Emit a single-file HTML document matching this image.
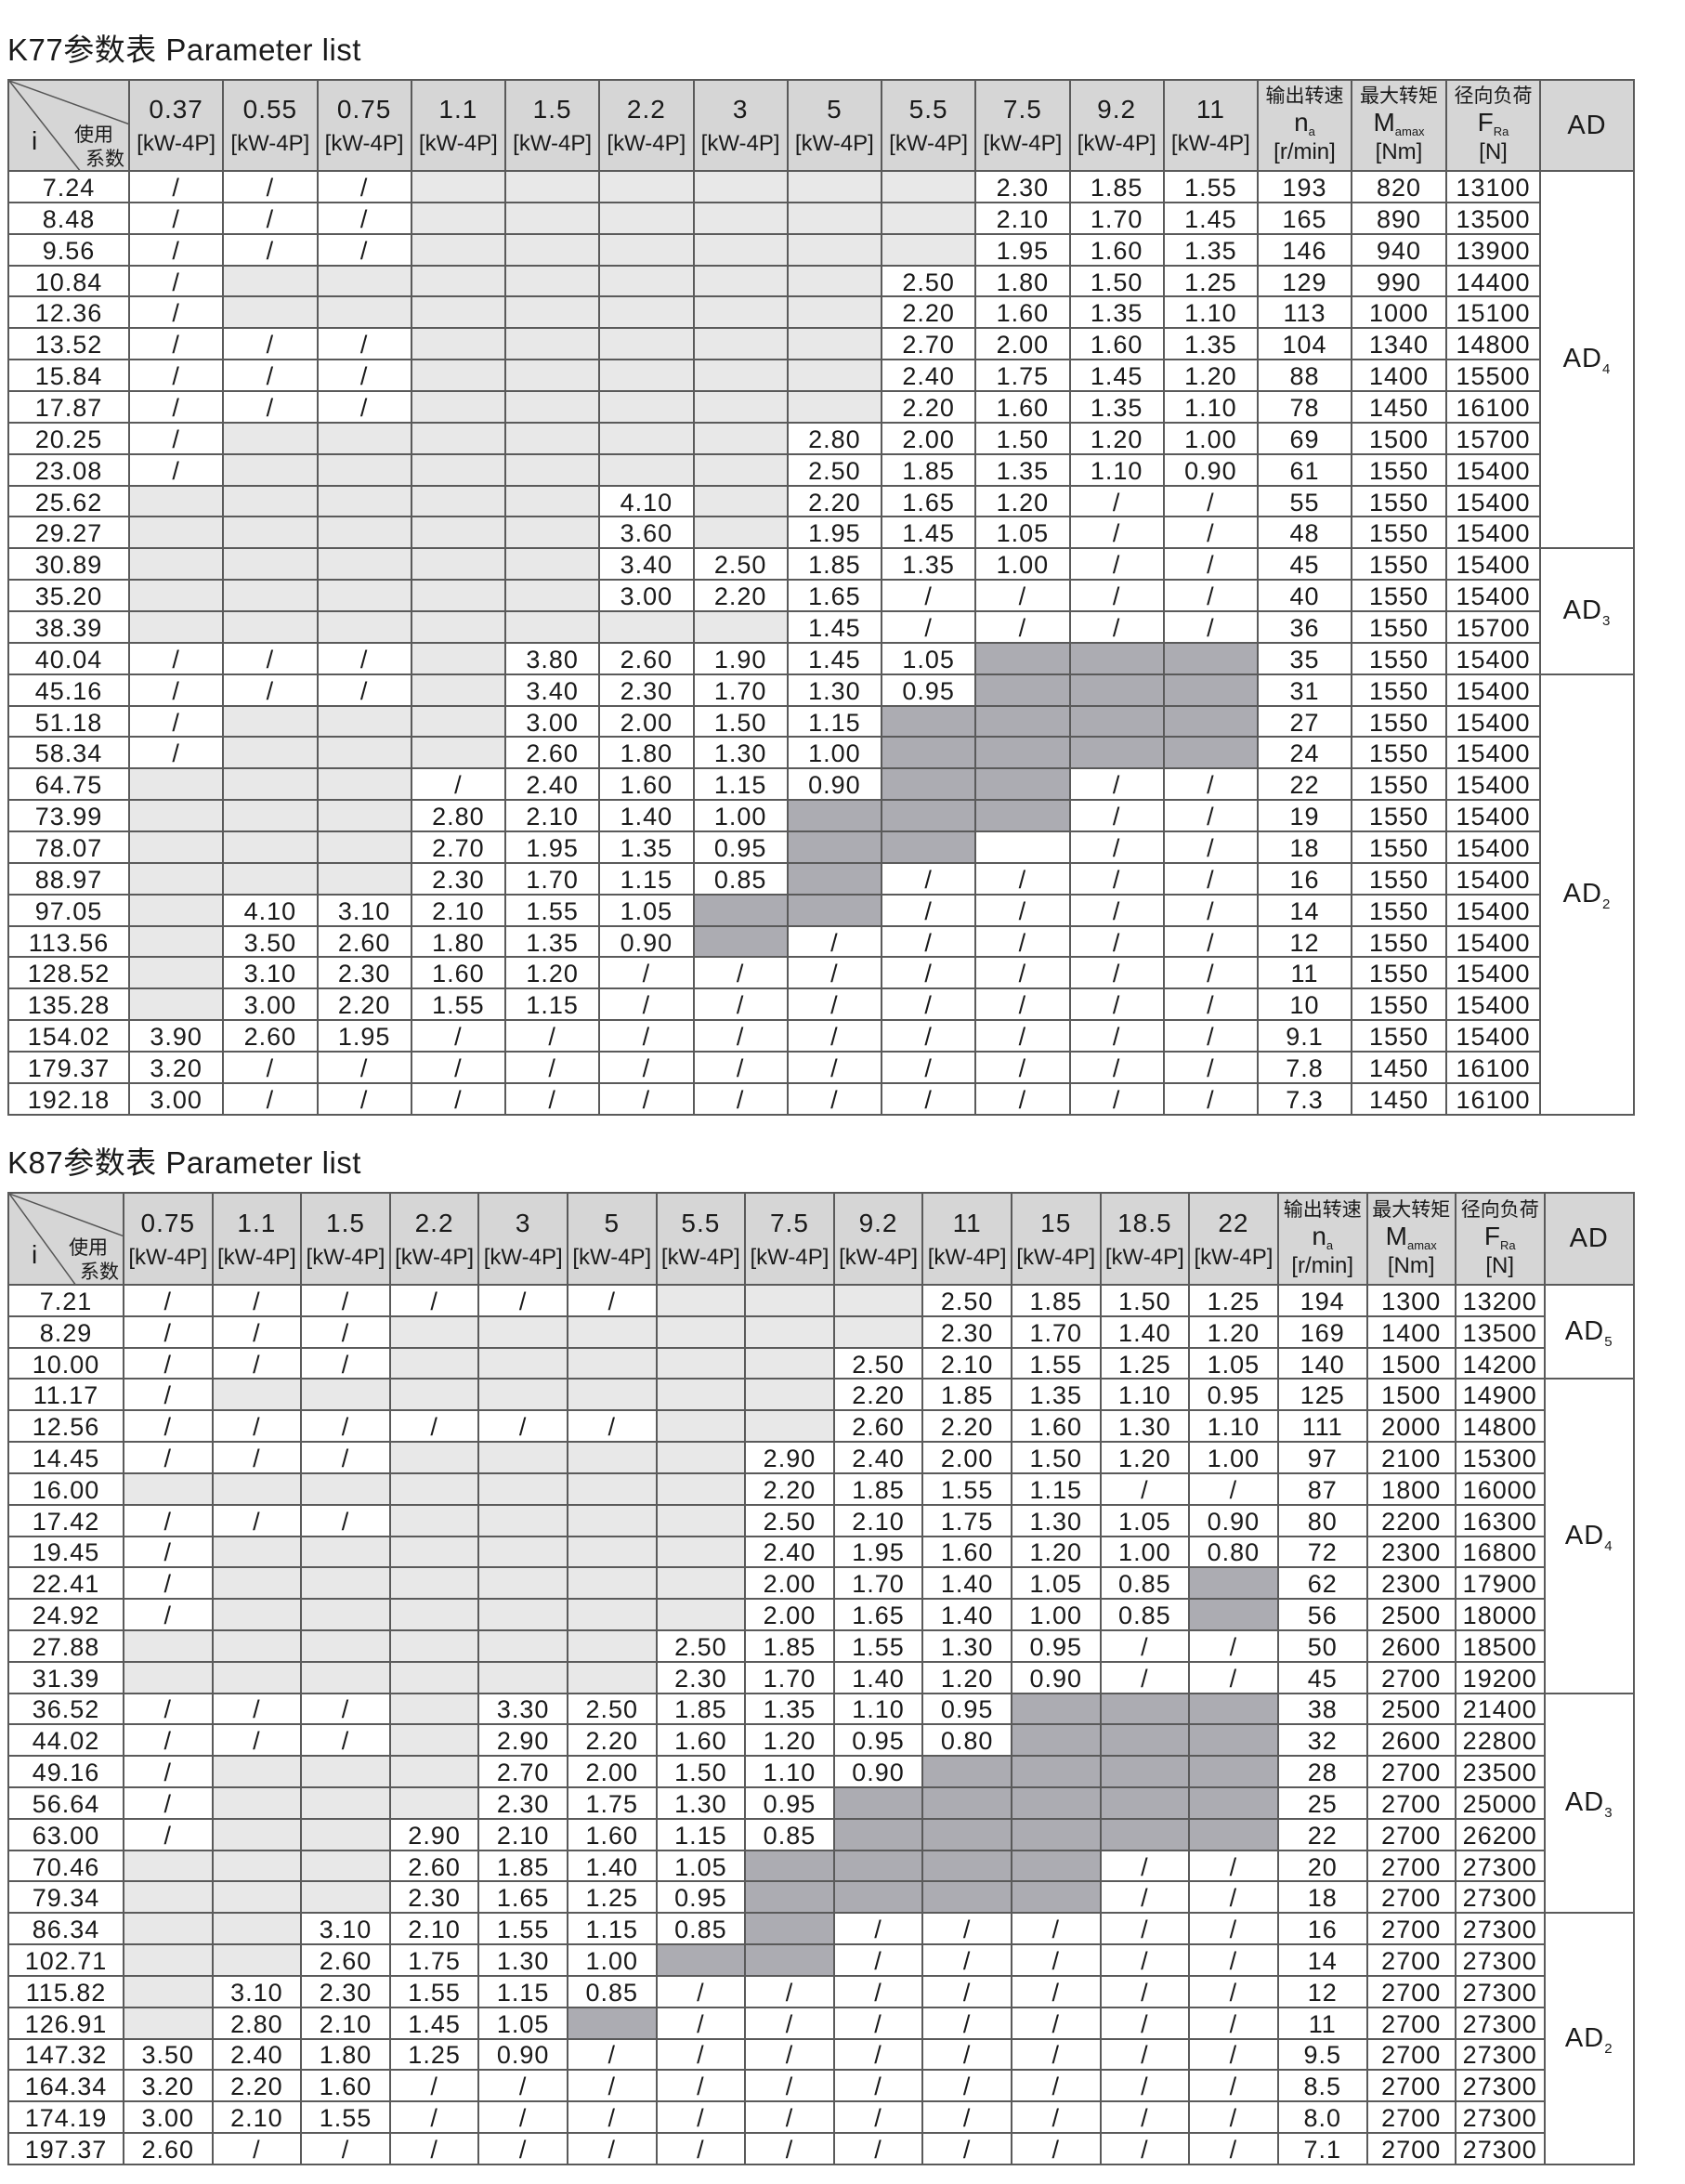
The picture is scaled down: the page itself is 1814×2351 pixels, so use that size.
<!DOCTYPE html>
<html><head><meta charset="utf-8">
<style>
html,body{margin:0;padding:0;background:#fff;}
body{width:1814px;height:2351px;position:relative;overflow:hidden;font-family:"Liberation Sans","Noto Sans CJK SC",sans-serif;color:#1a1a1a;}
.title{position:absolute;left:8px;font-size:33px;letter-spacing:0.5px;white-space:nowrap;}
table{position:absolute;left:8px;border-collapse:collapse;table-layout:fixed;}
td{border:2px solid #5a5a5a;text-align:center;vertical-align:middle;padding:3px 0 0 0;font-size:27px;letter-spacing:1px;line-height:1;overflow:hidden;white-space:nowrap;}
tr.h td{background:#d6d6d6;font-size:28px;line-height:1.25;padding:0;}
tr.h td .k{font-size:24px;letter-spacing:0;}
tr.h td.c{font-size:21px;line-height:1.15;letter-spacing:0;}
tr.h td.c .m{font-size:28px;}
tr.h td.c sub{font-size:13px;}
tr.h td.ad{font-size:29px;}
.l{background:#e8e8e8;}
.d{background:#acacb2;}
td.adc{background:#fff;font-size:29px;}
td.adc sub{font-size:15px;}
.dg{position:relative;}
.dg svg{position:absolute;left:0;top:0;}
.dg .i{position:absolute;left:24px;bottom:14px;font-size:28px;}
.dg .s1{position:absolute;right:16px;top:46px;font-size:21px;letter-spacing:0;}
.dg .s2{position:absolute;right:4px;top:72px;font-size:21px;letter-spacing:0;}
#t1 tr.r td{height:28.87px;}
#t2 tr.r td{height:28.82px;}
</style></head><body>
<div class="title" style="top:27px">K77参数表 Parameter list</div>
<table id="t1" style="top:85px;width:1750px;">
<colgroup><col style="width:130px"><col style="width:101.25px"><col style="width:101.25px"><col style="width:101.25px"><col style="width:101.25px"><col style="width:101.25px"><col style="width:101.25px"><col style="width:101.25px"><col style="width:101.25px"><col style="width:101.25px"><col style="width:101.25px"><col style="width:101.25px"><col style="width:101.25px"><col style="width:101px"><col style="width:102px"><col style="width:101px"><col style="width:101px"></colgroup>
<tr class="h" style="height:98px"><td class="dg"><svg width="130" height="98"><line x1="0" y1="0" x2="130" y2="47" stroke="#555" stroke-width="1.5"/><line x1="0" y1="0" x2="77" y2="98" stroke="#555" stroke-width="1.5"/></svg><span class="i">i</span><span class="s1">使用</span><span class="s2">系数</span></td>
<td>0.37<br><span class="k">[kW-4P]</span></td><td>0.55<br><span class="k">[kW-4P]</span></td><td>0.75<br><span class="k">[kW-4P]</span></td><td>1.1<br><span class="k">[kW-4P]</span></td><td>1.5<br><span class="k">[kW-4P]</span></td><td>2.2<br><span class="k">[kW-4P]</span></td><td>3<br><span class="k">[kW-4P]</span></td><td>5<br><span class="k">[kW-4P]</span></td><td>5.5<br><span class="k">[kW-4P]</span></td><td>7.5<br><span class="k">[kW-4P]</span></td><td>9.2<br><span class="k">[kW-4P]</span></td><td>11<br><span class="k">[kW-4P]</span></td>
<td class="c">输出转速<br><span class="m">n</span><sub>a</sub><br><span class="m" style="font-size:24px">[r/min]</span></td><td class="c">最大转矩<br><span class="m">M</span><sub>amax</sub><br><span class="m" style="font-size:24px">[Nm]</span></td><td class="c">径向负荷<br><span class="m">F</span><sub>Ra</sub><br><span class="m" style="font-size:24px">[N]</span></td><td class="ad">AD</td></tr>
<tr class="r"><td>7.24</td><td>/</td><td>/</td><td>/</td><td class="l"></td><td class="l"></td><td class="l"></td><td class="l"></td><td class="l"></td><td class="l"></td><td>2.30</td><td>1.85</td><td>1.55</td><td>193</td><td>820</td><td>13100</td><td class="adc" rowspan="12">AD<sub>4</sub></td></tr>
<tr class="r"><td>8.48</td><td>/</td><td>/</td><td>/</td><td class="l"></td><td class="l"></td><td class="l"></td><td class="l"></td><td class="l"></td><td class="l"></td><td>2.10</td><td>1.70</td><td>1.45</td><td>165</td><td>890</td><td>13500</td></tr>
<tr class="r"><td>9.56</td><td>/</td><td>/</td><td>/</td><td class="l"></td><td class="l"></td><td class="l"></td><td class="l"></td><td class="l"></td><td class="l"></td><td>1.95</td><td>1.60</td><td>1.35</td><td>146</td><td>940</td><td>13900</td></tr>
<tr class="r"><td>10.84</td><td>/</td><td class="l"></td><td class="l"></td><td class="l"></td><td class="l"></td><td class="l"></td><td class="l"></td><td class="l"></td><td>2.50</td><td>1.80</td><td>1.50</td><td>1.25</td><td>129</td><td>990</td><td>14400</td></tr>
<tr class="r"><td>12.36</td><td>/</td><td class="l"></td><td class="l"></td><td class="l"></td><td class="l"></td><td class="l"></td><td class="l"></td><td class="l"></td><td>2.20</td><td>1.60</td><td>1.35</td><td>1.10</td><td>113</td><td>1000</td><td>15100</td></tr>
<tr class="r"><td>13.52</td><td>/</td><td>/</td><td>/</td><td class="l"></td><td class="l"></td><td class="l"></td><td class="l"></td><td class="l"></td><td>2.70</td><td>2.00</td><td>1.60</td><td>1.35</td><td>104</td><td>1340</td><td>14800</td></tr>
<tr class="r"><td>15.84</td><td>/</td><td>/</td><td>/</td><td class="l"></td><td class="l"></td><td class="l"></td><td class="l"></td><td class="l"></td><td>2.40</td><td>1.75</td><td>1.45</td><td>1.20</td><td>88</td><td>1400</td><td>15500</td></tr>
<tr class="r"><td>17.87</td><td>/</td><td>/</td><td>/</td><td class="l"></td><td class="l"></td><td class="l"></td><td class="l"></td><td class="l"></td><td>2.20</td><td>1.60</td><td>1.35</td><td>1.10</td><td>78</td><td>1450</td><td>16100</td></tr>
<tr class="r"><td>20.25</td><td>/</td><td class="l"></td><td class="l"></td><td class="l"></td><td class="l"></td><td class="l"></td><td class="l"></td><td>2.80</td><td>2.00</td><td>1.50</td><td>1.20</td><td>1.00</td><td>69</td><td>1500</td><td>15700</td></tr>
<tr class="r"><td>23.08</td><td>/</td><td class="l"></td><td class="l"></td><td class="l"></td><td class="l"></td><td class="l"></td><td class="l"></td><td>2.50</td><td>1.85</td><td>1.35</td><td>1.10</td><td>0.90</td><td>61</td><td>1550</td><td>15400</td></tr>
<tr class="r"><td>25.62</td><td class="l"></td><td class="l"></td><td class="l"></td><td class="l"></td><td class="l"></td><td>4.10</td><td class="l"></td><td>2.20</td><td>1.65</td><td>1.20</td><td>/</td><td>/</td><td>55</td><td>1550</td><td>15400</td></tr>
<tr class="r"><td>29.27</td><td class="l"></td><td class="l"></td><td class="l"></td><td class="l"></td><td class="l"></td><td>3.60</td><td class="l"></td><td>1.95</td><td>1.45</td><td>1.05</td><td>/</td><td>/</td><td>48</td><td>1550</td><td>15400</td></tr>
<tr class="r"><td>30.89</td><td class="l"></td><td class="l"></td><td class="l"></td><td class="l"></td><td class="l"></td><td>3.40</td><td>2.50</td><td>1.85</td><td>1.35</td><td>1.00</td><td>/</td><td>/</td><td>45</td><td>1550</td><td>15400</td><td class="adc" rowspan="4">AD<sub>3</sub></td></tr>
<tr class="r"><td>35.20</td><td class="l"></td><td class="l"></td><td class="l"></td><td class="l"></td><td class="l"></td><td>3.00</td><td>2.20</td><td>1.65</td><td>/</td><td>/</td><td>/</td><td>/</td><td>40</td><td>1550</td><td>15400</td></tr>
<tr class="r"><td>38.39</td><td class="l"></td><td class="l"></td><td class="l"></td><td class="l"></td><td class="l"></td><td class="l"></td><td class="l"></td><td>1.45</td><td>/</td><td>/</td><td>/</td><td>/</td><td>36</td><td>1550</td><td>15700</td></tr>
<tr class="r"><td>40.04</td><td>/</td><td>/</td><td>/</td><td class="l"></td><td>3.80</td><td>2.60</td><td>1.90</td><td>1.45</td><td>1.05</td><td class="d"></td><td class="d"></td><td class="d"></td><td>35</td><td>1550</td><td>15400</td></tr>
<tr class="r"><td>45.16</td><td>/</td><td>/</td><td>/</td><td class="l"></td><td>3.40</td><td>2.30</td><td>1.70</td><td>1.30</td><td>0.95</td><td class="d"></td><td class="d"></td><td class="d"></td><td>31</td><td>1550</td><td>15400</td><td class="adc" rowspan="14">AD<sub>2</sub></td></tr>
<tr class="r"><td>51.18</td><td>/</td><td class="l"></td><td class="l"></td><td class="l"></td><td>3.00</td><td>2.00</td><td>1.50</td><td>1.15</td><td class="d"></td><td class="d"></td><td class="d"></td><td class="d"></td><td>27</td><td>1550</td><td>15400</td></tr>
<tr class="r"><td>58.34</td><td>/</td><td class="l"></td><td class="l"></td><td class="l"></td><td>2.60</td><td>1.80</td><td>1.30</td><td>1.00</td><td class="d"></td><td class="d"></td><td class="d"></td><td class="d"></td><td>24</td><td>1550</td><td>15400</td></tr>
<tr class="r"><td>64.75</td><td class="l"></td><td class="l"></td><td class="l"></td><td>/</td><td>2.40</td><td>1.60</td><td>1.15</td><td>0.90</td><td class="d"></td><td class="d"></td><td>/</td><td>/</td><td>22</td><td>1550</td><td>15400</td></tr>
<tr class="r"><td>73.99</td><td class="l"></td><td class="l"></td><td class="l"></td><td>2.80</td><td>2.10</td><td>1.40</td><td>1.00</td><td class="d"></td><td class="d"></td><td class="d"></td><td>/</td><td>/</td><td>19</td><td>1550</td><td>15400</td></tr>
<tr class="r"><td>78.07</td><td class="l"></td><td class="l"></td><td class="l"></td><td>2.70</td><td>1.95</td><td>1.35</td><td>0.95</td><td class="d"></td><td class="d"></td><td></td><td>/</td><td>/</td><td>18</td><td>1550</td><td>15400</td></tr>
<tr class="r"><td>88.97</td><td class="l"></td><td class="l"></td><td class="l"></td><td>2.30</td><td>1.70</td><td>1.15</td><td>0.85</td><td class="d"></td><td>/</td><td>/</td><td>/</td><td>/</td><td>16</td><td>1550</td><td>15400</td></tr>
<tr class="r"><td>97.05</td><td class="l"></td><td>4.10</td><td>3.10</td><td>2.10</td><td>1.55</td><td>1.05</td><td class="d"></td><td class="d"></td><td>/</td><td>/</td><td>/</td><td>/</td><td>14</td><td>1550</td><td>15400</td></tr>
<tr class="r"><td>113.56</td><td class="l"></td><td>3.50</td><td>2.60</td><td>1.80</td><td>1.35</td><td>0.90</td><td class="d"></td><td>/</td><td>/</td><td>/</td><td>/</td><td>/</td><td>12</td><td>1550</td><td>15400</td></tr>
<tr class="r"><td>128.52</td><td class="l"></td><td>3.10</td><td>2.30</td><td>1.60</td><td>1.20</td><td>/</td><td>/</td><td>/</td><td>/</td><td>/</td><td>/</td><td>/</td><td>11</td><td>1550</td><td>15400</td></tr>
<tr class="r"><td>135.28</td><td class="l"></td><td>3.00</td><td>2.20</td><td>1.55</td><td>1.15</td><td>/</td><td>/</td><td>/</td><td>/</td><td>/</td><td>/</td><td>/</td><td>10</td><td>1550</td><td>15400</td></tr>
<tr class="r"><td>154.02</td><td>3.90</td><td>2.60</td><td>1.95</td><td>/</td><td>/</td><td>/</td><td>/</td><td>/</td><td>/</td><td>/</td><td>/</td><td>/</td><td>9.1</td><td>1550</td><td>15400</td></tr>
<tr class="r"><td>179.37</td><td>3.20</td><td>/</td><td>/</td><td>/</td><td>/</td><td>/</td><td>/</td><td>/</td><td>/</td><td>/</td><td>/</td><td>/</td><td>7.8</td><td>1450</td><td>16100</td></tr>
<tr class="r"><td>192.18</td><td>3.00</td><td>/</td><td>/</td><td>/</td><td>/</td><td>/</td><td>/</td><td>/</td><td>/</td><td>/</td><td>/</td><td>/</td><td>7.3</td><td>1450</td><td>16100</td></tr>
</table>

<div class="title" style="top:1225px">K87参数表 Parameter list</div>
<table id="t2" style="top:1283px;width:1750px;">
<colgroup><col style="width:124px"><col style="width:95.6px"><col style="width:95.6px"><col style="width:95.6px"><col style="width:95.6px"><col style="width:95.6px"><col style="width:95.6px"><col style="width:95.6px"><col style="width:95.6px"><col style="width:95.6px"><col style="width:95.6px"><col style="width:95.6px"><col style="width:95.6px"><col style="width:95.6px"><col style="width:96px"><col style="width:95px"><col style="width:96px"><col style="width:96px"></colgroup>
<tr class="h" style="height:99px"><td class="dg"><svg width="124" height="99"><line x1="0" y1="0" x2="124" y2="46" stroke="#555" stroke-width="1.5"/><line x1="0" y1="0" x2="72" y2="99" stroke="#555" stroke-width="1.5"/></svg><span class="i">i</span><span class="s1">使用</span><span class="s2">系数</span></td>
<td>0.75<br><span class="k">[kW-4P]</span></td><td>1.1<br><span class="k">[kW-4P]</span></td><td>1.5<br><span class="k">[kW-4P]</span></td><td>2.2<br><span class="k">[kW-4P]</span></td><td>3<br><span class="k">[kW-4P]</span></td><td>5<br><span class="k">[kW-4P]</span></td><td>5.5<br><span class="k">[kW-4P]</span></td><td>7.5<br><span class="k">[kW-4P]</span></td><td>9.2<br><span class="k">[kW-4P]</span></td><td>11<br><span class="k">[kW-4P]</span></td><td>15<br><span class="k">[kW-4P]</span></td><td>18.5<br><span class="k">[kW-4P]</span></td><td>22<br><span class="k">[kW-4P]</span></td>
<td class="c">输出转速<br><span class="m">n</span><sub>a</sub><br><span class="m" style="font-size:24px">[r/min]</span></td><td class="c">最大转矩<br><span class="m">M</span><sub>amax</sub><br><span class="m" style="font-size:24px">[Nm]</span></td><td class="c">径向负荷<br><span class="m">F</span><sub>Ra</sub><br><span class="m" style="font-size:24px">[N]</span></td><td class="ad">AD</td></tr>
<tr class="r"><td>7.21</td><td>/</td><td>/</td><td>/</td><td>/</td><td>/</td><td>/</td><td class="l"></td><td class="l"></td><td class="l"></td><td>2.50</td><td>1.85</td><td>1.50</td><td>1.25</td><td>194</td><td>1300</td><td>13200</td><td class="adc" rowspan="3">AD<sub>5</sub></td></tr>
<tr class="r"><td>8.29</td><td>/</td><td>/</td><td>/</td><td class="l"></td><td class="l"></td><td class="l"></td><td class="l"></td><td class="l"></td><td class="l"></td><td>2.30</td><td>1.70</td><td>1.40</td><td>1.20</td><td>169</td><td>1400</td><td>13500</td></tr>
<tr class="r"><td>10.00</td><td>/</td><td>/</td><td>/</td><td class="l"></td><td class="l"></td><td class="l"></td><td class="l"></td><td class="l"></td><td>2.50</td><td>2.10</td><td>1.55</td><td>1.25</td><td>1.05</td><td>140</td><td>1500</td><td>14200</td></tr>
<tr class="r"><td>11.17</td><td>/</td><td class="l"></td><td class="l"></td><td class="l"></td><td class="l"></td><td class="l"></td><td class="l"></td><td class="l"></td><td>2.20</td><td>1.85</td><td>1.35</td><td>1.10</td><td>0.95</td><td>125</td><td>1500</td><td>14900</td><td class="adc" rowspan="10">AD<sub>4</sub></td></tr>
<tr class="r"><td>12.56</td><td>/</td><td>/</td><td>/</td><td>/</td><td>/</td><td>/</td><td class="l"></td><td class="l"></td><td>2.60</td><td>2.20</td><td>1.60</td><td>1.30</td><td>1.10</td><td>111</td><td>2000</td><td>14800</td></tr>
<tr class="r"><td>14.45</td><td>/</td><td>/</td><td>/</td><td class="l"></td><td class="l"></td><td class="l"></td><td class="l"></td><td>2.90</td><td>2.40</td><td>2.00</td><td>1.50</td><td>1.20</td><td>1.00</td><td>97</td><td>2100</td><td>15300</td></tr>
<tr class="r"><td>16.00</td><td class="l"></td><td class="l"></td><td class="l"></td><td class="l"></td><td class="l"></td><td class="l"></td><td class="l"></td><td>2.20</td><td>1.85</td><td>1.55</td><td>1.15</td><td>/</td><td>/</td><td>87</td><td>1800</td><td>16000</td></tr>
<tr class="r"><td>17.42</td><td>/</td><td>/</td><td>/</td><td class="l"></td><td class="l"></td><td class="l"></td><td class="l"></td><td>2.50</td><td>2.10</td><td>1.75</td><td>1.30</td><td>1.05</td><td>0.90</td><td>80</td><td>2200</td><td>16300</td></tr>
<tr class="r"><td>19.45</td><td>/</td><td class="l"></td><td class="l"></td><td class="l"></td><td class="l"></td><td class="l"></td><td class="l"></td><td>2.40</td><td>1.95</td><td>1.60</td><td>1.20</td><td>1.00</td><td>0.80</td><td>72</td><td>2300</td><td>16800</td></tr>
<tr class="r"><td>22.41</td><td>/</td><td class="l"></td><td class="l"></td><td class="l"></td><td class="l"></td><td class="l"></td><td class="l"></td><td>2.00</td><td>1.70</td><td>1.40</td><td>1.05</td><td>0.85</td><td class="d"></td><td>62</td><td>2300</td><td>17900</td></tr>
<tr class="r"><td>24.92</td><td>/</td><td class="l"></td><td class="l"></td><td class="l"></td><td class="l"></td><td class="l"></td><td class="l"></td><td>2.00</td><td>1.65</td><td>1.40</td><td>1.00</td><td>0.85</td><td class="d"></td><td>56</td><td>2500</td><td>18000</td></tr>
<tr class="r"><td>27.88</td><td class="l"></td><td class="l"></td><td class="l"></td><td class="l"></td><td class="l"></td><td class="l"></td><td>2.50</td><td>1.85</td><td>1.55</td><td>1.30</td><td>0.95</td><td>/</td><td>/</td><td>50</td><td>2600</td><td>18500</td></tr>
<tr class="r"><td>31.39</td><td class="l"></td><td class="l"></td><td class="l"></td><td class="l"></td><td class="l"></td><td class="l"></td><td>2.30</td><td>1.70</td><td>1.40</td><td>1.20</td><td>0.90</td><td>/</td><td>/</td><td>45</td><td>2700</td><td>19200</td></tr>
<tr class="r"><td>36.52</td><td>/</td><td>/</td><td>/</td><td class="l"></td><td>3.30</td><td>2.50</td><td>1.85</td><td>1.35</td><td>1.10</td><td>0.95</td><td class="d"></td><td class="d"></td><td class="d"></td><td>38</td><td>2500</td><td>21400</td><td class="adc" rowspan="7">AD<sub>3</sub></td></tr>
<tr class="r"><td>44.02</td><td>/</td><td>/</td><td>/</td><td class="l"></td><td>2.90</td><td>2.20</td><td>1.60</td><td>1.20</td><td>0.95</td><td>0.80</td><td class="d"></td><td class="d"></td><td class="d"></td><td>32</td><td>2600</td><td>22800</td></tr>
<tr class="r"><td>49.16</td><td>/</td><td class="l"></td><td class="l"></td><td class="l"></td><td>2.70</td><td>2.00</td><td>1.50</td><td>1.10</td><td>0.90</td><td class="d"></td><td class="d"></td><td class="d"></td><td class="d"></td><td>28</td><td>2700</td><td>23500</td></tr>
<tr class="r"><td>56.64</td><td>/</td><td class="l"></td><td class="l"></td><td class="l"></td><td>2.30</td><td>1.75</td><td>1.30</td><td>0.95</td><td class="d"></td><td class="d"></td><td class="d"></td><td class="d"></td><td class="d"></td><td>25</td><td>2700</td><td>25000</td></tr>
<tr class="r"><td>63.00</td><td>/</td><td class="l"></td><td class="l"></td><td>2.90</td><td>2.10</td><td>1.60</td><td>1.15</td><td>0.85</td><td class="d"></td><td class="d"></td><td class="d"></td><td class="d"></td><td class="d"></td><td>22</td><td>2700</td><td>26200</td></tr>
<tr class="r"><td>70.46</td><td class="l"></td><td class="l"></td><td class="l"></td><td>2.60</td><td>1.85</td><td>1.40</td><td>1.05</td><td class="d"></td><td class="d"></td><td class="d"></td><td class="d"></td><td>/</td><td>/</td><td>20</td><td>2700</td><td>27300</td></tr>
<tr class="r"><td>79.34</td><td class="l"></td><td class="l"></td><td class="l"></td><td>2.30</td><td>1.65</td><td>1.25</td><td>0.95</td><td class="d"></td><td class="d"></td><td class="d"></td><td class="d"></td><td>/</td><td>/</td><td>18</td><td>2700</td><td>27300</td></tr>
<tr class="r"><td>86.34</td><td class="l"></td><td class="l"></td><td>3.10</td><td>2.10</td><td>1.55</td><td>1.15</td><td>0.85</td><td class="d"></td><td>/</td><td>/</td><td>/</td><td>/</td><td>/</td><td>16</td><td>2700</td><td>27300</td><td class="adc" rowspan="8">AD<sub>2</sub></td></tr>
<tr class="r"><td>102.71</td><td class="l"></td><td class="l"></td><td>2.60</td><td>1.75</td><td>1.30</td><td>1.00</td><td class="d"></td><td class="d"></td><td>/</td><td>/</td><td>/</td><td>/</td><td>/</td><td>14</td><td>2700</td><td>27300</td></tr>
<tr class="r"><td>115.82</td><td class="l"></td><td>3.10</td><td>2.30</td><td>1.55</td><td>1.15</td><td>0.85</td><td>/</td><td>/</td><td>/</td><td>/</td><td>/</td><td>/</td><td>/</td><td>12</td><td>2700</td><td>27300</td></tr>
<tr class="r"><td>126.91</td><td class="l"></td><td>2.80</td><td>2.10</td><td>1.45</td><td>1.05</td><td class="d"></td><td>/</td><td>/</td><td>/</td><td>/</td><td>/</td><td>/</td><td>/</td><td>11</td><td>2700</td><td>27300</td></tr>
<tr class="r"><td>147.32</td><td>3.50</td><td>2.40</td><td>1.80</td><td>1.25</td><td>0.90</td><td>/</td><td>/</td><td>/</td><td>/</td><td>/</td><td>/</td><td>/</td><td>/</td><td>9.5</td><td>2700</td><td>27300</td></tr>
<tr class="r"><td>164.34</td><td>3.20</td><td>2.20</td><td>1.60</td><td>/</td><td>/</td><td>/</td><td>/</td><td>/</td><td>/</td><td>/</td><td>/</td><td>/</td><td>/</td><td>8.5</td><td>2700</td><td>27300</td></tr>
<tr class="r"><td>174.19</td><td>3.00</td><td>2.10</td><td>1.55</td><td>/</td><td>/</td><td>/</td><td>/</td><td>/</td><td>/</td><td>/</td><td>/</td><td>/</td><td>/</td><td>8.0</td><td>2700</td><td>27300</td></tr>
<tr class="r"><td>197.37</td><td>2.60</td><td>/</td><td>/</td><td>/</td><td>/</td><td>/</td><td>/</td><td>/</td><td>/</td><td>/</td><td>/</td><td>/</td><td>/</td><td>7.1</td><td>2700</td><td>27300</td></tr>
</table>
</body></html>
